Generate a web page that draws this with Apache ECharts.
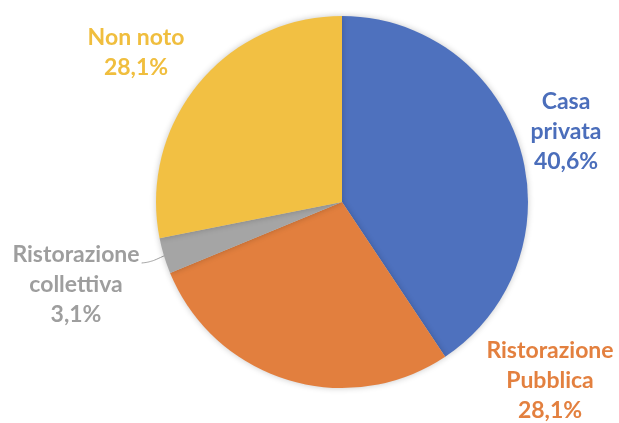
<!DOCTYPE html>
<html>
<head>
<meta charset="utf-8">
<script src="https://cdn.jsdelivr.net/npm/echarts@6/dist/echarts.min.js"></script>
<style>
  html, body { margin: 0; padding: 0; background: #ffffff; }
  #chart { width: 619px; height: 423px; }
</style>
</head>
<body>
<div id="chart"></div>
<script>
// Luogo di consumo: quote percentuali
const categories = ['Casa\nprivata', 'Ristorazione\nPubblica', 'Ristorazione\ncollettiva', 'Non noto'];
const values = [40.6, 28.1, 3.1, 28.1];
const colors = ['#4E71BE', '#E27F3E', '#A5A5A5', '#F2C043'];
const textColors = ['#4B6EBB', '#E3803F', '#9E9E9E', '#F0BE3E'];

// label anchor points (centre of each text block)
const labelPos = [
  { x: 566, y: 132 },
  { x: 550, y: 381 },
  { x: 76, y: 285 },
  { x: 136, y: 53 }
];

const chart = echarts.init(document.getElementById('chart'), null, { renderer: 'canvas' });

const data = categories.map((name, i) => ({
  name: name,
  value: values[i],
  itemStyle: { color: colors[i] },
  label: { color: textColors[i] },
  labelLine: { show: i === 2 }
}));

chart.setOption({
  animation: false,
  backgroundColor: '#ffffff',
  series: [{
    type: 'pie',
    center: [342, 202],
    radius: 186,
    startAngle: 90,
    clockwise: true,
    avoidLabelOverlap: false,
    itemStyle: {
      borderWidth: 0,
      shadowBlur: 6,
      shadowColor: 'rgba(0,0,0,0.22)'
    },
    label: {
      show: true,
      position: 'outside',
      fontFamily: 'Lato',
      fontWeight: 'bold',
      fontSize: 23,
      lineHeight: 30,
      align: 'center',
      formatter: p => p.name + '\n' + p.value.toFixed(1).replace('.', ',') + '%'
    },
    labelLine: {
      length: 8,
      length2: 8,
      smooth: 0.4,
      lineStyle: { color: '#A0A0A0', width: 1 }
    },
    labelLayout: params => {
      const pos = labelPos[params.dataIndex];
      const out = { x: pos.x, y: pos.y, align: 'center', verticalAlign: 'middle' };
      const pts = params.labelLinePoints;
      if (pts && pts.length) {
        // leader runs from the slice edge to the end of the first text line
        const lr = params.labelRect;
        const right = pos.x + lr.width / 2 + 2;
        const lineY = pos.y - lr.height / 2 + 22;
        out.labelLinePoints = [
          [pts[0][0], pts[0][1]],
          [right + 9, lineY],
          [right, lineY + 1]
        ];
      }
      return out;
    },
    data: data
  }]
});
</script>
</body>
</html>
